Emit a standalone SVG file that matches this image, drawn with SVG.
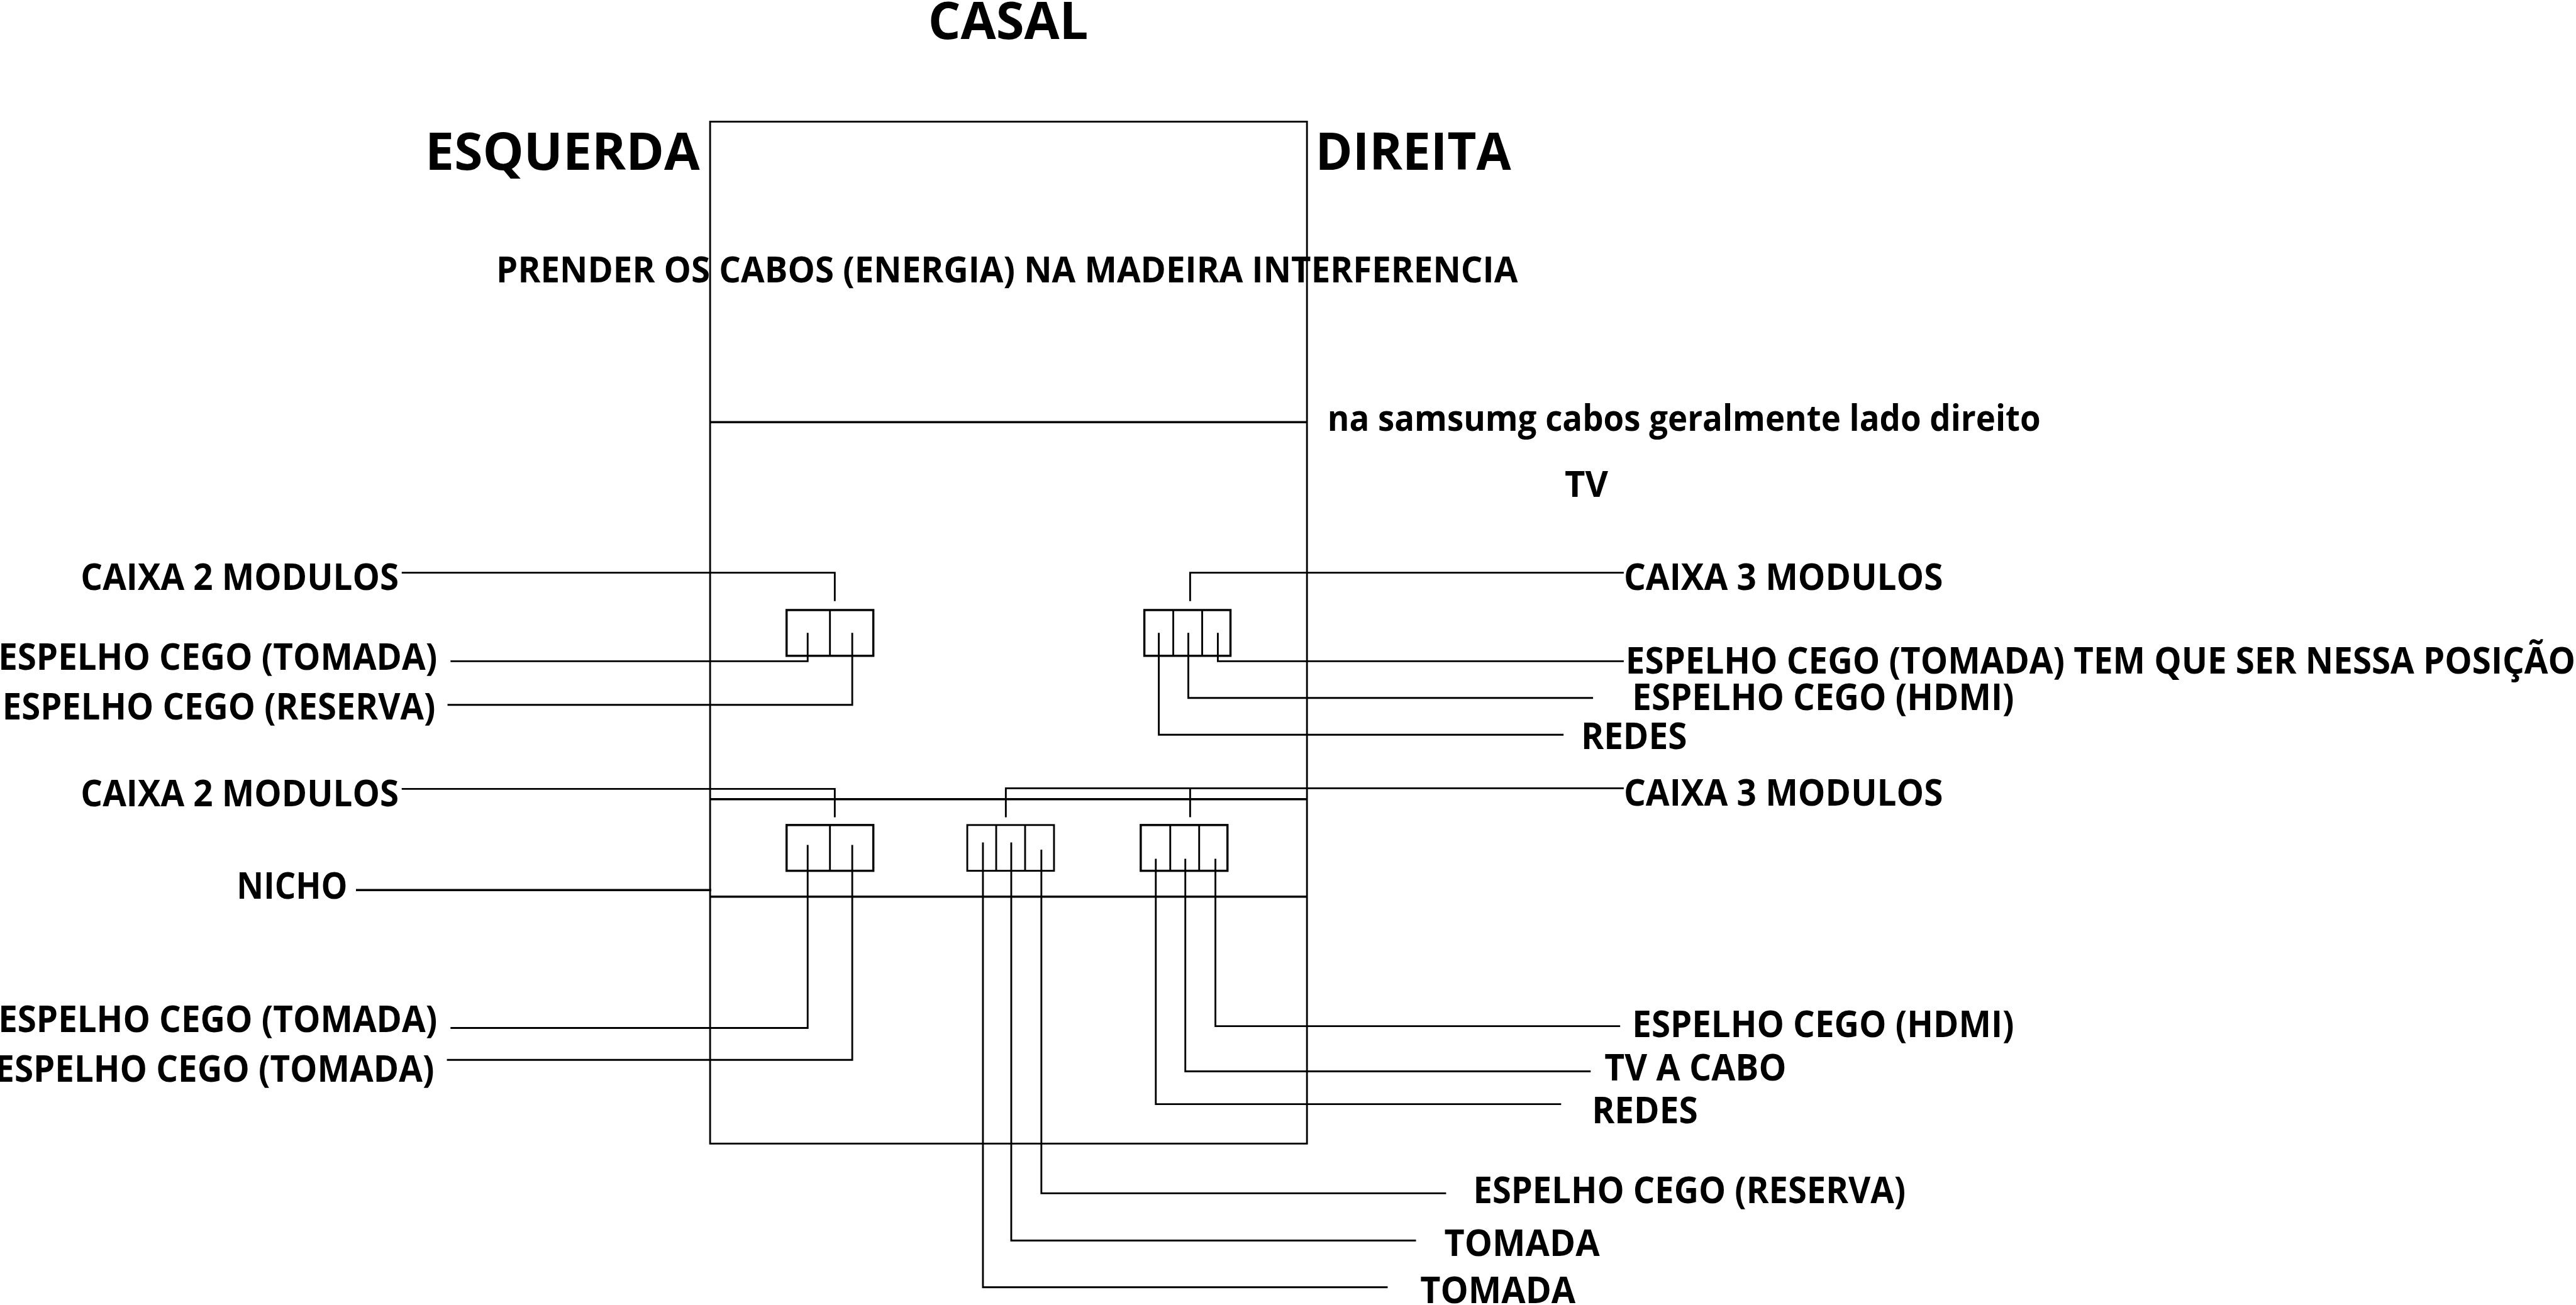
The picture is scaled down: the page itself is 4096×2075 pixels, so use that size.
<svg xmlns="http://www.w3.org/2000/svg" width="4096" height="2075" viewBox="0 0 4096 2075">
<style>
.w{stroke:#000;stroke-width:3;fill:none}
.b{stroke:#000;stroke-width:3.6;fill:none}
.t{font-family:"Open Sans","Noto Sans","Liberation Sans",sans-serif;font-weight:700;font-size:62px;fill:#000}
.h{font-size:87px}
.m{font-size:60px}
</style>
<rect width="4096" height="2075" fill="#fff"/>
<g transform="scale(0.95768 0.95754)">
<g id="cabinet">
<rect class="w" x="1179" y="202" width="991" height="1697"/>
<path class="b" d="M1179 701H2170M1179 1327H2170M1179 1489H2170"/>
</g>
<g id="box-left-upper"><rect class="b" x="1306" y="1013" width="144" height="76"/><path class="w" d="M1378 1013V1089"/></g>
<g id="box-right-upper"><rect class="b" x="1900" y="1013" width="143" height="76"/><path class="w" d="M1948 1013V1089M1996 1013V1089"/></g>
<g id="box-left-lower"><rect class="b" x="1306" y="1370" width="144" height="76"/><path class="w" d="M1378 1370V1446"/></g>
<g id="box-middle-lower"><rect class="w" x="1606" y="1370" width="144" height="76"/><path class="w" d="M1654 1370V1446M1702 1370V1446"/></g>
<g id="box-right-lower"><rect class="b" x="1894" y="1370" width="144" height="76"/><path class="w" d="M1943 1370V1446M1991 1370V1446"/></g>
<g id="connectors">
<path class="w" d="M667 951H1386V998"/>
<path class="w" d="M748 1098H1341V1051"/>
<path class="w" d="M743 1170.500H1415V1051"/>
<path class="w" d="M2696 951H1976V998"/>
<path class="w" d="M2696 1098H2022V1051"/>
<path class="w" d="M2645 1159H1973V1051"/>
<path class="w" d="M2596 1220H1924V1051"/>
<path class="w" d="M667 1310H1386V1357"/>
<path class="w" d="M2696 1309H1670V1357"/>
<path class="w" d="M1976 1309V1357"/>
<path class="b" d="M591 1478H1181"/>
<path class="w" d="M748 1707H1341V1403"/>
<path class="w" d="M742 1760H1415V1403"/>
<path class="w" d="M2690 1704H2018V1426"/>
<path class="w" d="M2641 1779H1968V1426"/>
<path class="w" d="M2592 1833.500H1919V1426"/>
<path class="w" d="M2401 1981.500H1729V1411"/>
<path class="w" d="M2351 2060H1679V1399"/>
<path class="w" d="M2304 2137.500H1632V1399"/>
</g>
<g id="labels">
<text class="t h" x="1541" y="65" textLength="266" lengthAdjust="spacingAndGlyphs">CASAL</text>
<text class="t h" x="706" y="282" textLength="456" lengthAdjust="spacingAndGlyphs">ESQUERDA</text>
<text class="t h" x="2184" y="282" textLength="325" lengthAdjust="spacingAndGlyphs">DIREITA</text>
<text class="t m" x="824" y="469" textLength="1696" lengthAdjust="spacingAndGlyphs">PRENDER OS CABOS (ENERGIA) NA MADEIRA INTERFERENCIA</text>
<text class="t m" x="2204" y="715" textLength="1184" lengthAdjust="spacingAndGlyphs">na samsumg cabos geralmente lado direito</text>
<text class="t m" x="2598" y="825" textLength="72" lengthAdjust="spacingAndGlyphs">TV</text>
<text class="t" x="134" y="980" textLength="528" lengthAdjust="spacingAndGlyphs">CAIXA 2 MODULOS</text>
<text class="t" x="-3" y="1112" textLength="729" lengthAdjust="spacingAndGlyphs">ESPELHO CEGO (TOMADA)</text>
<text class="t" x="4" y="1195" textLength="719" lengthAdjust="spacingAndGlyphs">ESPELHO CEGO (RESERVA)</text>
<text class="t" x="134" y="1339" textLength="528" lengthAdjust="spacingAndGlyphs">CAIXA 2 MODULOS</text>
<text class="t" x="393" y="1492" textLength="184" lengthAdjust="spacingAndGlyphs">NICHO</text>
<text class="t" x="-3" y="1714" textLength="729" lengthAdjust="spacingAndGlyphs">ESPELHO CEGO (TOMADA)</text>
<text class="t" x="-8" y="1796" textLength="729" lengthAdjust="spacingAndGlyphs">ESPELHO CEGO (TOMADA)</text>
<text class="t" x="2696" y="980" textLength="530" lengthAdjust="spacingAndGlyphs">CAIXA 3 MODULOS</text>
<text class="t" x="2699" y="1119" textLength="1577" lengthAdjust="spacingAndGlyphs">ESPELHO CEGO (TOMADA) TEM QUE SER NESSA POSIÇÃO</text>
<text class="t" x="2710" y="1179" textLength="634" lengthAdjust="spacingAndGlyphs">ESPELHO CEGO (HDMI)</text>
<text class="t" x="2625" y="1244" textLength="176" lengthAdjust="spacingAndGlyphs">REDES</text>
<text class="t" x="2696" y="1338" textLength="530" lengthAdjust="spacingAndGlyphs">CAIXA 3 MODULOS</text>
<text class="t" x="2710" y="1722" textLength="634" lengthAdjust="spacingAndGlyphs">ESPELHO CEGO (HDMI)</text>
<text class="t" x="2664" y="1794" textLength="302" lengthAdjust="spacingAndGlyphs">TV A CABO</text>
<text class="t" x="2643" y="1865" textLength="176" lengthAdjust="spacingAndGlyphs">REDES</text>
<text class="t" x="2446" y="1998" textLength="718" lengthAdjust="spacingAndGlyphs">ESPELHO CEGO (RESERVA)</text>
<text class="t" x="2398" y="2086" textLength="258" lengthAdjust="spacingAndGlyphs">TOMADA</text>
<text class="t" x="2358" y="2164" textLength="258" lengthAdjust="spacingAndGlyphs">TOMADA</text>
</g>
</g>
</svg>
